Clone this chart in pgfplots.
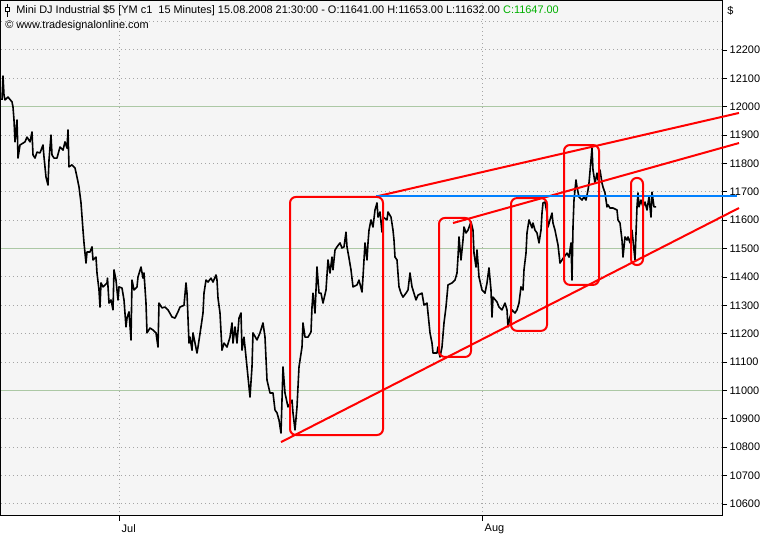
\documentclass[border=0pt]{standalone}
\usepackage{fontspec}
\setmainfont{Liberation Sans}
\usepackage{pgfplots}
\pgfplotsset{compat=1.18}
\definecolor{bgc}{RGB}{245,245,245}
\definecolor{gridg}{RGB}{172,200,165}
\definecolor{dotc}{RGB}{165,165,165}
\definecolor{bluel}{RGB}{0,128,255}
\definecolor{greentxt}{RGB}{0,176,0}
\begin{document}
\begin{tikzpicture}
\path[use as bounding box, fill=white] (0,0) rectangle (576.75pt,402pt);
\begin{axis}[
  at={(0.75pt,15pt)}, anchor=south west,
  scale only axis, width=540.75pt, height=386.25pt,
  xmin=1, xmax=722, ymin=10557.6, ymax=12372.5,
  axis background/.style={fill=bgc},
  axis line style={black, line width=0.75pt},
  xtick={119,482}, xticklabels={Jul,Aug},
  xtick pos=left, ytick pos=right,
  yticklabel pos=right,
  tick align=outside,
  major tick length=3.75pt,
  tick style={black, line width=0.6pt},
  ytick={10600,10700,...,12200},
  scaled y ticks=false,
  ymajorgrids, xmajorgrids,
  grid style={dotc, dash pattern=on 0.75pt off 2.25pt, line width=0.75pt},
  extra y ticks={12300}, extra y tick labels={},
  extra y tick style={major tick length=0pt},
  ticklabel style={font=\fontsize{8.2}{10}\selectfont},
  yticklabel style={anchor=west, xshift=-1.5pt},
  xticklabel style={anchor=north west, xshift=-1.5pt, yshift=1pt},
  /pgf/number format/.cd, assume math mode=true, 1000 sep={}, fixed, precision=0,
  /pgfplots/.cd,
  clip=false,
]
% green reference lines
\addplot[gridg, line width=0.8pt] coordinates {(1,11000)(722,11000)};
\addplot[gridg, line width=0.8pt] coordinates {(1,11500)(722,11500)};
\addplot[gridg, line width=0.8pt] coordinates {(1,12000)(722,12000)};
% price
\addplot[black, line width=1.2pt, line join=round] coordinates {
(2,12024) (3,12108) (4,12041) (5,12024) (8,12034) (12,12017) (13,11999) (14,11953) (15,11876) (17,11953) (17.5,11893) (18,11819) (20,11865) (25,11876) (27,11893) (30,11876) (32,11911) (33,11830) (35,11819) (37,11840) (40,11837) (43,11865) (44,11823) (46,11752) (48,11724) (49,11812) (51,11900) (52,11830) (54,11819) (57,11819) (60,11858) (63,11847) (65,11876) (67,11854) (68,11918) (69,11788) (72,11795) (75,11784) (77,11752) (79,11717) (81,11661) (83,11565) (84,11520) (86,11449) (87,11488) (90,11488) (92,11506) (93,11460) (96,11470) (97,11414) (99,11354) (100,11294) (101,11379) (103,11365) (107,11379) (107.5,11396) (109,11308) (111,11319) (113,11284) (114,11425) (116,11389) (118,11319) (119,11365) (122,11361) (124,11319) (126,11224) (127,11255) (129,11277) (131,11178) (132,11389) (134,11354) (137,11365) (138,11400) (141,11435) (143,11396) (144,11414) (146,11308) (147,11203) (150,11220) (153,11213) (156,11203) (158,11153) (159,11308) (162,11291) (165,11294) (168,11284) (172,11259) (175,11255) (178,11277)
(180,11294) (184,11300) (186,11379) (187,11343) (189,11167) (190,11188) (192,11142) (193,11203) (197,11132) (198,11153) (201,11224) (203,11273) (204,11343) (206,11389) (208,11382) (211,11396) (213,11382) (216,11407) (217,11389) (218,11326) (220,11273) (222,11142) (224,11167) (227,11153) (230,11188) (232,11238) (233,11167) (235,11224) (237,11167) (239,11255) (241,11273) (242,11142) (244,11188) (246,11118) (247,11083) (250,10977) (252,11083) (253,11203) (257,11178) (260,11203) (263,11238) (265,11188) (267,11037) (270,10991) (273,10991) (275,10931) (277,10921) (279,10896) (281,10850) (283,11083) (285,10991) (288,10942) (292,10966) (293,10921) (295,10861) (297,10942) (299,11083) (302,11153) (303,11238) (305,11188) (308,11188) (311,11206) (312,11294) (313,11343) (315,11273) (317,11435) (319,11343) (321,11343) (323,11308) (326,11354) (328,11460) (330,11414) (332,11470) (333,11425) (335,11495) (337,11506) (340,11520) (342,11502) (344,11506) (346,11558) (347,11506) (349,11467) (351,11425) (353,11365) (357,11372) (359,11389) (362,11347) (363,11400) (365,11520) (367,11460) (368,11520) (369,11565) (371,11601) (373,11576) (375,11636) (377,11661) (378,11611) (380,11629) (382,11558) (383,11611) (387,11601) (388,11629) (391,11611) (393,11565) (394,11530) (395,11470) (397,11460) (399,11365) (401,11343) (403,11329) (406,11343) (408,11354) (410,11414) (412,11365) (413,11354) (416,11319) (418,11336) (422,11343) (424,11301) (427,11308) (428,11273) (430,11203) (432,11167) (433,11132) (437,11132) (438,11153) (440,11118) (442,11153) (444,11238) (446,11294) (448,11372) (452,11379) (455,11389) (457,11414) (458,11470) (459,11541) (461,11460) (463,11530) (464,11576) (466,11555) (468,11565) (471,11594) (473,11565) (474,11484) (476,11435) (477,11495) (479,11400) (482,11354) (485,11343) (487,11379) (489,11432) (491,11354) (492,11259) (493,11329) (497,11312) (499,11294) (502,11284) (505,11308) (507,11284) (508,11224) (510,11259) (512,11284) (515,11273) (517,11284) (519,11308) (521,11365) (523,11354) (524,11425) (526,11484) (527,11555) (529,11601) (532,11573) (533,11590) (535,11565) (537,11555) (539,11520) (541,11565) (542,11625) (543,11661) (545,11664) (547,11625) (548,11576) (550,11601) (552,11625) (553,11590) (555,11565) (557,11530) (558,11513) (560,11449) (562,11460) (564,11470) (567,11484) (569,11470) (571,11520) (572,11389) (573,11576) (574,11671) (576,11742) (577,11717) (579,11682) (582,11671) (584,11682) (586,11671) (588,11706) (589,11731) (591,11812) (592,11854) (593,11777) (595,11731) (597,11766) (598,11742) (600,11777) (602,11731) (603,11717) (605,11696) (607,11647) (608,11654) (610,11643) (613,11643) (617,11636) (618,11601) (620,11590) (622,11530) (623,11470) (625,11541) (627,11530) (628,11541) (630,11520) (632,11565) (633,11530) (635,11460) (637,11647) (638,11696) (639,11647) (641,11671) (643,11647) (645,11664) (647,11636) (649,11682) (651,11611) (652,11699) (654,11647) (656,11647)
};
% trend lines
\addplot[red, line width=1.5pt] coordinates {(378,11685) (739,11978)};
\addplot[red, line width=1.5pt] coordinates {(453,11590) (739,11872)};
\addplot[red, line width=1.5pt] coordinates {(281,10818) (739,11643)};
\addplot[bluel, line width=1.5pt] coordinates {(376,11685) (737,11685)};
% boxes
\draw[red, line width=1.5pt, rounded corners=4.5pt] (axis cs:290,11682) rectangle (axis cs:383,10843);
\draw[red, line width=1.5pt, rounded corners=4.5pt] (axis cs:439,11608) rectangle (axis cs:471,11118);
\draw[red, line width=1.5pt, rounded corners=4.5pt] (axis cs:511,11678) rectangle (axis cs:547,11210);
\draw[red, line width=1.5pt, rounded corners=4.5pt] (axis cs:564,11865) rectangle (axis cs:599,11372);
\draw[red, line width=1.5pt, rounded corners=4.4pt] (axis cs:631,11749) rectangle (axis cs:643,11442);
\end{axis}
\begin{scope}[x=0.75pt, y=-0.75pt, yshift=402pt]
\draw[black, line width=0.75pt] (7.5,4) -- (7.5,17);
\draw[black, line width=0.75pt, fill=white] (5.5,8) rectangle (9.5,12);
\node[anchor=west, inner sep=0pt, font=\fontsize{8.2}{10}\selectfont] at (16,10.5)
  {Mini DJ Industrial \$5 [YM c1\ \ 15 Minutes] 15.08.2008 21:30:00 - O:11641.00 H:11653.00 L:11632.00 \textcolor{greentxt}{C:11647.00}};
\node[anchor=west, inner sep=0pt, font=\fontsize{8.2}{10}\selectfont] at (5,25.5)
  {© www.tradesignalonline.com};
\node[anchor=west, inner sep=0pt, font=\fontsize{8.2}{10}\selectfont] at (727,11)
  {\$};
\end{scope}
\end{tikzpicture}
\end{document}
